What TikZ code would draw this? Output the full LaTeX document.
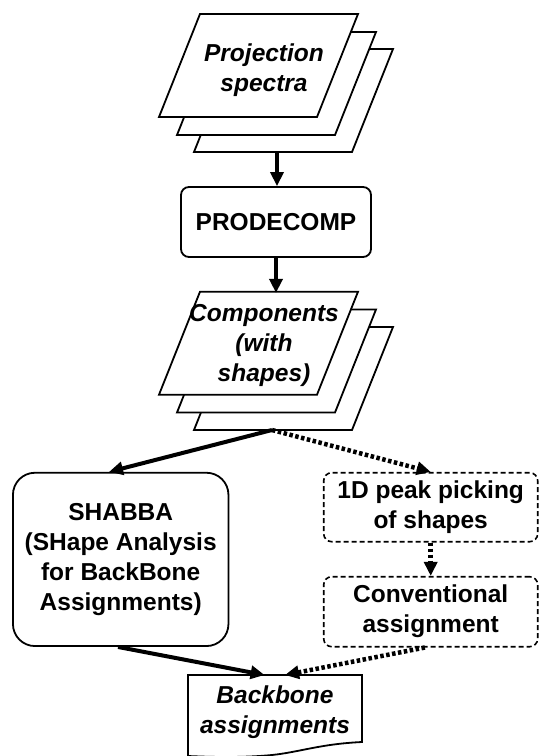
\documentclass[tikz,border=0pt]{standalone}
\usepackage{fontspec}
\setmainfont{Liberation Sans}
\usetikzlibrary{arrows.meta,calc}
\begin{document}
\begin{tikzpicture}[x=1pt,y=-1pt,
  every node/.style={font=\fontsize{24.5}{30}\selectfont\bfseries, align=center, inner sep=0pt},
  sheetline/.style={draw, fill=white, line width=1.8pt, line join=miter},
  roundbox/.style={draw, line width=1.8pt, rounded corners=8pt},
  dashbox/.style={draw, line width=1.6pt, rounded corners=8pt, dash pattern=on 5pt off 3pt},
  arr/.style={line width=4pt, -{Triangle[length=14pt,width=13pt]}},
  dotarr/.style={line width=4.5pt, dash pattern=on 3.5pt off 2.5pt, -{Triangle[length=14pt,width=13pt]}},
  sheet/.pic={\draw[sheetline] (41,0) -- (199,0) -- (158,103) -- (0,103) -- cycle;}
]
\useasboundingbox (0,0) rectangle (539,756);

% Projection spectra stack
\pic at (194,49) {sheet};
\pic at (177,32) {sheet};
\pic at (159,14) {sheet};
\node (proj) at (264,70) {\itshape Projection\\\itshape spectra};
\coordinate (projbot) at (277,152);

% PRODECOMP
\node[roundbox, minimum width=190pt, minimum height=70pt] (prod) at (276,222) {PRODECOMP};

% Components stack
\pic at (194,327) {sheet};
\pic at (177,309.5) {sheet};
\pic at (159,291.7) {sheet};
\node (comp) at (264,345) {\itshape Components\\\itshape (with\\\itshape shapes)};
\coordinate (compbot) at (272,430);

% SHABBA
\node[roundbox, rounded corners=22pt, minimum width=215.5pt, minimum height=173.3pt] (shabba) at (120.7,559.4)
  {SHABBA\\(SHape Analysis\\for BackBone\\Assignments)};

% right branch
\node[dashbox, minimum width=214pt, minimum height=69pt] (peak) at (430.7,507.2) {1D peak picking\\of shapes};
\node[dashbox, minimum width=214pt, minimum height=70pt] (conv) at (430.7,611.7) {Conventional\\assignment};

% Backbone assignments document
\draw[line width=1.8pt, fill=white] (188,675) -- (362,675) -- (362,742)
  .. controls (320,744) and (300,752) .. (272,755)
  .. controls (240,758) and (210,757) .. (188,756) -- cycle;
\node (bb) at (275,712) {\itshape Backbone\\\itshape assignments};
\coordinate (bbin1) at (264.6,675);
\coordinate (bbin2) at (285,675);

% connectors
\draw[arr] (projbot) -- (projbot |- prod.north);
\draw[arr] (prod.south) -- ($(prod.south)+(0,35)$);
\draw[arr] (compbot) -- ($(shabba.north west)+(97,0)$);
\draw[dotarr] (compbot) -- (peak.north);
\draw[dotarr] (peak.south) -- (conv.north);
\draw[arr] ($(shabba.south west)+(106,0)$) -- (bbin1);
\draw[dotarr] ($(conv.south west)+(102,0)$) -- (bbin2);
\end{tikzpicture}
\end{document}
